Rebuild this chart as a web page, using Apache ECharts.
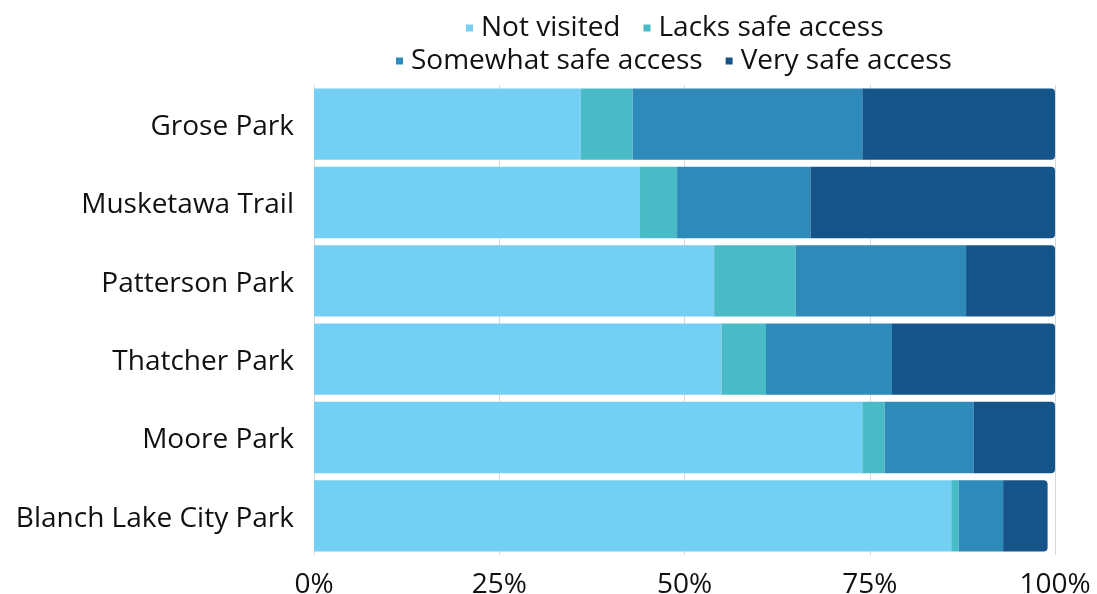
<!DOCTYPE html>
<html>
<head>
<meta charset="utf-8">
<script src="https://cdn.jsdelivr.net/npm/echarts@6/dist/echarts.min.js"></script>
<style>
  html, body { margin: 0; padding: 0; background: #ffffff; }
  #chart { width: 1097px; height: 594px; }
</style>
</head>
<body>
<div id="chart"></div>
<script>
// Park names, listed bottom-to-top so Grose Park sits at the top of the axis
const parks = ['Blanch Lake City Park', 'Moore Park', 'Thatcher Park', 'Patterson Park', 'Musketawa Trail', 'Grose Park'];

// Share of respondents (%) for each response, same order as parks
const notVisited   = [86, 74, 55, 54, 44, 36];
const lacksSafe    = [1, 3, 6, 11, 5, 7];
const somewhatSafe = [6, 12, 17, 23, 18, 31];
const verySafe     = [6, 11, 22, 12, 33, 26];

const seriesNames = ['Not visited', 'Lacks safe access', 'Somewhat safe access', 'Very safe access'];
const seriesColors = ['#74CFF4', '#48BBC6', '#2D8AB9', '#155489'];
const xTicks = [0, 25, 50, 75, 100];

const FONT = 'Open Sans';
const FONT_SIZE = 28;
const chart = echarts.init(document.getElementById('chart'), null, { renderer: 'canvas' });

const values = [notVisited, lacksSafe, somewhatSafe, verySafe];
const series = seriesNames.map((name, i) => ({
  name: name,
  type: 'bar',
  stack: 'total',
  barCategoryGap: '9%',
  data: values[i],
  itemStyle: {
    color: seriesColors[i],
    borderRadius: i === 3 ? [0, 4, 4, 0] : 0
  },
  emphasis: { disabled: true }
}));

// Two legend rows, both centred over the plot area rather than the page
const legendBase = {
  icon: 'rect', itemWidth: 7, itemHeight: 7, itemGap: 23,
  textStyle: { fontFamily: FONT, fontSize: FONT_SIZE, color: '#111111', padding: [0, 0, 0, 3] }
};

chart.setOption({
  animation: false,
  legend: [
    Object.assign({ data: seriesNames.slice(0, 2), top: 9, left: 461 }, legendBase),
    Object.assign({ data: seriesNames.slice(2), top: 42, left: 391 }, legendBase)
  ],
  grid: { left: 314, right: 42, top: 85, bottom: 39, containLabel: false, outerBoundsMode: 'none' },
  xAxis: {
    type: 'value',
    min: 0, max: 100, interval: 25,
    axisLine: { show: false },
    axisTick: { show: false },
    splitLine: { show: true, lineStyle: { color: '#d9d9d9', width: 1 } },
    axisLabel: {
      formatter: v => xTicks.includes(v) ? v + '%' : '',
      fontFamily: FONT, fontSize: FONT_SIZE, color: '#111111', margin: 16
    }
  },
  yAxis: {
    type: 'category',
    data: parks,
    axisLine: { show: false },
    axisTick: { show: false },
    // a short line box hung from the tick nudges the names a few pixels below centre
    axisLabel: {
      fontFamily: FONT, fontSize: FONT_SIZE, color: '#111111', margin: 20,
      verticalAlign: 'top', lineHeight: 6
    }
  },
  series: series
});
</script>
</body>
</html>
